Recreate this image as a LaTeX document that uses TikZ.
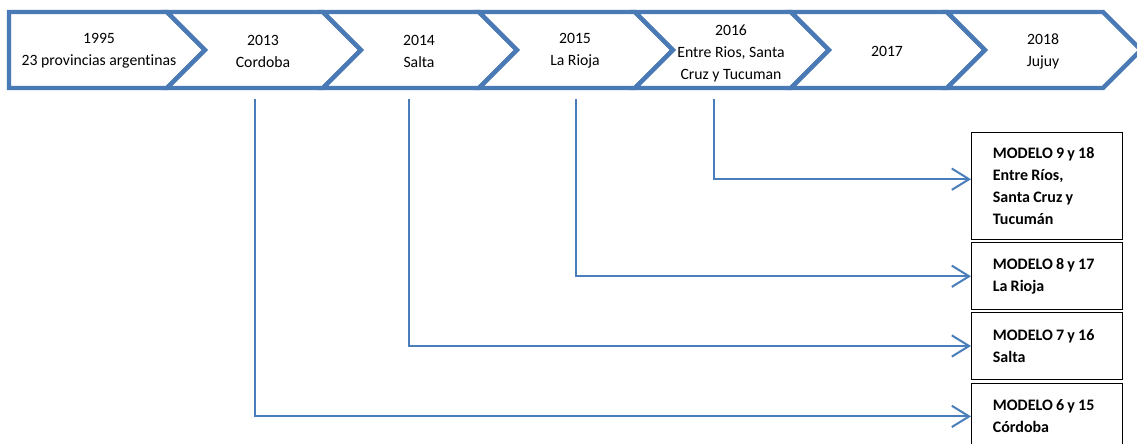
\documentclass[tikz,border=0pt]{standalone}
\usepackage{fontspec}
\setmainfont{Carlito}[Ligatures=CommonOff]
\usetikzlibrary{arrows.meta,positioning}
\definecolor{chevBlue}{HTML}{4A7AB5}
\definecolor{linkBlue}{HTML}{4A7EBB}

\begin{document}
\begin{tikzpicture}[x=0.75pt,y=-0.75pt,
    font=\fontsize{11.8}{16.5}\selectfont,
    chev/.style={draw=chevBlue,line width=3.3pt,fill=white,line join=miter},
    year/.style={align=center,inner sep=0pt},
    model/.style={draw=black,line width=0.8pt,anchor=north west,
                  font=\bfseries\fontsize{12}{16.5}\selectfont,
                  execute at begin node={\spaceskip=2.4pt\relax},
                  align=left,text width=81pt,inner xsep=16pt},
    link/.style={draw=linkBlue,line width=1.5pt,
                 -{Straight Barb[length=13pt,width=16pt]}}]
  \useasboundingbox (0,0) rectangle (1137,443);

  % timeline
  \draw[chev] (9,12) -- (167,12) -- (205,50) -- (167,88) -- (9,88) -- cycle;
  \foreach \k in {0,...,5}
    \draw[chev] ({167+156*\k},12) -- ({323+156*\k},12) -- ({361+156*\k},50)
      -- ({323+156*\k},88) -- ({167+156*\k},88) -- ({205+156*\k},50) -- cycle;

  \node[year] (t1995) at (99,51)  {1995\\23 provincias argentinas};
  \node[year] (t2013) at (263,51) {2013\\Cordoba};
  \node[year] (t2014) at (419,51) {2014\\Salta};
  \node[year] (t2015) at (575,51) {2015\\La Rioja};
  \node[year] (t2016) at (731,53) {2016\\Entre Rios, Santa\\Cruz y Tucuman};
  \node[year] (t2017) at (887,51) {2017};
  \node[year] (t2018) at (1043,51) {2018\\Jujuy};

  % modelos
  \node[model,minimum height=80pt] (m9) at (971,132)
    {MODELO 9 y 18\\Entre Ríos,\\Santa Cruz y\\Tucumán};
  \node[model,minimum height=50pt,below=2pt of m9.south west,anchor=north west] (m8)
    {MODELO 8 y 17\\La Rioja};
  \node[model,minimum height=50pt,below=1.5pt of m8.south west,anchor=north west] (m7)
    {MODELO 7 y 16\\Salta};
  \node[model,minimum height=50pt,below=2pt of m7.south west,anchor=north west] (m6)
    {MODELO 6 y 15\\Córdoba};

  \coordinate (c2013) at (255,99);
  \coordinate (c2014) at (409,99);
  \coordinate (c2015) at (576,99);
  \coordinate (c2016) at (714,99);

  \draw[link] (c2016) |- ([yshift=5pt]m9.west);
  \draw[link] (c2015) |- (m8.west);
  \draw[link] (c2014) |- (m7.west);
  \draw[link] (c2013) |- (m6.west);
\end{tikzpicture}
\end{document}
